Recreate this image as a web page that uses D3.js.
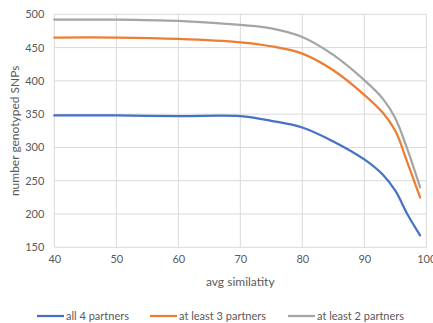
<!DOCTYPE html>
<html>
<head>
<meta charset="utf-8">
<script src="https://cdn.jsdelivr.net/npm/d3@7"></script>
<style>
  body { margin: 0; background: #fff; }
  svg { display: block; font-family: Lato, "Open Sans", sans-serif; }
</style>
</head>
<body>
<svg id="chart" width="433" height="323"></svg>
<script>
// similarity thresholds (x) and SNP counts per partner group
const similarity = [40, 50, 60, 70, 75, 80, 85, 90, 93, 95, 97, 99];
const all4 =        [348, 348, 347, 347, 340, 330, 309, 282, 259, 235, 199, 168];
const atLeast3 =    [465, 465, 463, 458, 452, 441, 416, 379, 352, 325, 276, 225];
const atLeast2 =    [492, 492, 490, 484, 479, 466, 439, 401, 373, 344, 296, 240];
const seriesNames = ["all 4 partners", "at least 3 partners", "at least 2 partners"];
const seriesColors = ["#4472C4", "#ED7D31", "#A5A5A5"];
const xTicks = [40, 50, 60, 70, 80, 90, 100];
const yTicks = [150, 200, 250, 300, 350, 400, 450, 500];

const svg = d3.select("#chart");
const W = 433, H = 323;
const margin = { left: 54.3, right: W - 426.3, top: 14.3, bottom: H - 247.3 };

const x = d3.scaleLinear().domain([40, 100]).range([margin.left, W - margin.right]);
const y = d3.scaleLinear().domain([150, 500]).range([H - margin.bottom, margin.top]);

// gridlines
const grid = svg.append("g");
grid.selectAll("line.h").data(yTicks).join("line")
  .attr("x1", x(40)).attr("x2", x(100))
  .attr("y1", d => y(d)).attr("y2", d => y(d))
  .attr("stroke", "#d9d9d9").attr("stroke-width", 1);
grid.selectAll("line.v").data(xTicks).join("line")
  .attr("y1", y(150)).attr("y2", y(500))
  .attr("x1", d => x(d)).attr("x2", d => x(d))
  .attr("stroke", "#d9d9d9").attr("stroke-width", 1);

// axes (labels only, lines come from the grid)
const yAxis = svg.append("g")
  .attr("transform", `translate(${x(40)},0)`)
  .call(d3.axisLeft(y).tickValues(yTicks).tickSize(0).tickPadding(10));
const xAxis = svg.append("g")
  .attr("transform", `translate(0,${y(150)})`)
  .call(d3.axisBottom(x).tickValues(xTicks).tickSize(0).tickPadding(8));
[yAxis, xAxis].forEach(a => {
  a.select(".domain").remove();
  a.selectAll("text").attr("fill", "#595959").style("font-size", "11px")
    .style("font-family", "Lato, 'Open Sans', sans-serif");
});

// axis titles
svg.append("text")
  .attr("x", (x(40) + x(100)) / 2).attr("y", 286)
  .attr("text-anchor", "middle").attr("fill", "#595959").style("font-size", "12px")
  .text("avg similatity");
svg.append("text")
  .attr("transform", `translate(19,${(y(150) + y(500)) / 2}) rotate(-90)`)
  .attr("text-anchor", "middle").attr("fill", "#595959").style("font-size", "12px")
  .text("number genotyped SNPs");

// series lines
const data = [all4, atLeast3, atLeast2];
const line = d3.line()
  .x((d, i) => x(similarity[i]))
  .y(d => y(d))
  .curve(d3.curveCatmullRom.alpha(0.5));
svg.append("g").selectAll("path").data(data).join("path")
  .attr("d", line)
  .attr("fill", "none")
  .attr("stroke", (d, i) => seriesColors[i])
  .attr("stroke-width", 2.25)
  .attr("stroke-linecap", "round");

// legend
const legendX = [37, 150, 288];
const lg = svg.append("g").selectAll("g").data(seriesNames).join("g")
  .attr("transform", (d, i) => `translate(${legendX[i]},316)`);
lg.append("line").attr("x1", 0).attr("x2", 27).attr("y1", 0).attr("y2", 0)
  .attr("stroke", (d, i) => seriesColors[i]).attr("stroke-width", 2.25);
lg.append("text").attr("x", 29).attr("y", 4)
  .attr("fill", "#595959").style("font-size", "11px")
  .text(d => d);
</script>
</body>
</html>
